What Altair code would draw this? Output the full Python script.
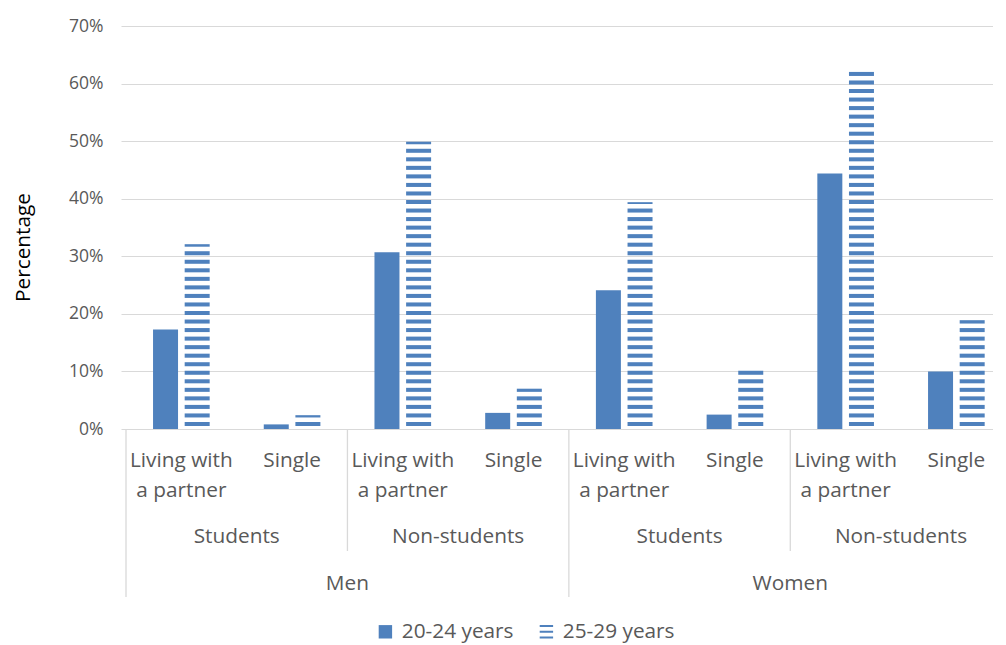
import altair as alt
import pandas as pd

GENDERS = ["Men", "Women"]
STATUSES = ["Students", "Non-students"]
HOUSEHOLDS = ["Living with a partner", "Single"]
SERIES = ["20-24 years", "25-29 years"]

# percent, in order Men/Students/Living, Men/Students/Single, Men/Non-students/...
AGE_20_24 = [17.3, 0.8, 30.7, 2.8, 24.1, 2.5, 44.4, 10.0]
AGE_25_29 = [32.1, 2.4, 49.9, 7.0, 39.4, 10.2, 62.5, 18.9]
Y_TICKS = [0, 10, 20, 30, 40, 50, 60, 70]

FONT = "Open Sans"
GREY = "#595959"
BLUE = "#4F81BD"
LINE = "#D9D9D9"
SMALL, BIG = 17.5, 20.8

W, H = 872, 403
CAT_PX = 112          # width of one category slot
BAR_OFF = 16 / CAT_PX  # half distance between the two bars
STRIPE_GAP, STRIPE_THICK, STRIPE_PERIOD = 0.52, 0.70, 1.483  # in percent units

# category table
cats = []
for g in GENDERS:
    for s in STATUSES:
        for h in HOUSEHOLDS:
            cats.append({"gender": g, "status": s, "household": h, "idx": len(cats)})
cats = pd.DataFrame(cats)

solid = cats.assign(pos=cats.idx - BAR_OFF, value=[v / 100 for v in AGE_20_24], series=SERIES[0])

stripes = []
for i, v in zip(cats.idx, AGE_25_29):
    lo = STRIPE_GAP
    while lo < v:
        stripes.append({"pos": i + BAR_OFF, "lo": lo / 100, "hi": min(lo + STRIPE_THICK, v) / 100,
                        "series": SERIES[1]})
        lo += STRIPE_PERIOD
stripes = pd.DataFrame(stripes)

lvl1 = cats.assign(label=cats.household.str.replace("Living with ", "Living with\n"))
lvl2 = cats.groupby(["gender", "status"], sort=False).idx.mean().reset_index()
lvl3 = cats.groupby("gender", sort=False).idx.mean().reset_index()

short_sep = pd.DataFrame({"b": [cats.idx[cats.gender == g].mean() for g in GENDERS]})
long_sep = pd.DataFrame({"b": [cats.idx[cats.gender == g].min() - 0.5 for g in GENDERS] + [len(cats) - 0.5]})

x_scale = alt.Scale(domain=[-0.5, -0.5 + W / CAT_PX], nice=False, zero=False)
y_scale = alt.Scale(domain=[0, 0.7], nice=False)

stripe_path = "M-1,-1H1V-0.7H-1Z M-1,-0.15H1V0.15H-1Z M-1,0.7H1V1H-1Z"
color = alt.Color(
    "series:N",
    scale=alt.Scale(domain=SERIES, range=[BLUE, BLUE]),
    legend=alt.Legend(
        title=None, orient="none", legendX=254, legendY=595, direction="horizontal",
        symbolSize=180, symbolStrokeWidth=0, labelFont=FONT, labelFontSize=BIG,
        labelColor=GREY, labelOffset=6, columnPadding=22, padding=0,
        symbolType={"expr": f"datum.value === '{SERIES[1]}' ? '{stripe_path}' : 'square'"},
    ),
)

y_axis = alt.Axis(
    values=[t / 100 for t in Y_TICKS], format=".0%", title="Percentage",
    grid=True, gridColor=LINE, domain=False, ticks=False, labelPadding=18,
    labelFont=FONT, labelFontSize=SMALL, labelColor=GREY,
    titleFont=FONT, titleFontSize=BIG, titleFontWeight="normal", titleColor="#000000",
    titleAngle=270, titleX=-98, titleY=221, titleAlign="center", titleBaseline="middle",
)

bars = alt.Chart(solid).mark_bar(width=25).encode(
    x=alt.X("pos:Q", scale=x_scale, axis=None),
    y=alt.Y("value:Q", scale=y_scale, axis=y_axis),
    color=color,
)

striped = alt.Chart(stripes).mark_bar(width=25).encode(
    x=alt.X("pos:Q", scale=x_scale, axis=None),
    y=alt.Y("lo:Q", scale=y_scale),
    y2="hi:Q",
    color=color,
)

text_style = dict(font=FONT, fontSize=BIG, color=GREY, baseline="alphabetic", align="center")

t1 = alt.Chart(lvl1).mark_text(lineBreak="\n", lineHeight=30, **text_style).encode(
    x=alt.X("idx:Q", scale=x_scale), y=alt.value(441), text="label:N")
t2 = alt.Chart(lvl2).mark_text(**text_style).encode(
    x=alt.X("idx:Q", scale=x_scale), y=alt.value(517), text="status:N")
t3 = alt.Chart(lvl3).mark_text(**text_style).encode(
    x=alt.X("idx:Q", scale=x_scale), y=alt.value(564), text="gender:N")

r1 = alt.Chart(short_sep).mark_rule(color=LINE, strokeWidth=1.3).encode(
    x=alt.X("b:Q", scale=x_scale), y=alt.value(H), y2=alt.value(525))
r2 = alt.Chart(long_sep).mark_rule(color=LINE, strokeWidth=1.3).encode(
    x=alt.X("b:Q", scale=x_scale), y=alt.value(H), y2=alt.value(571))

chart = alt.layer(bars, striped, r1, r2, t1, t2, t3).properties(
    width=W, height=H,
    autosize=alt.AutoSizeParams(type="none"),
    padding={"left": 113, "top": 18, "right": 0, "bottom": 214},
).configure_view(strokeWidth=0)

chart.save("out.html", embed_options={"renderer": "svg", "actions": False})
